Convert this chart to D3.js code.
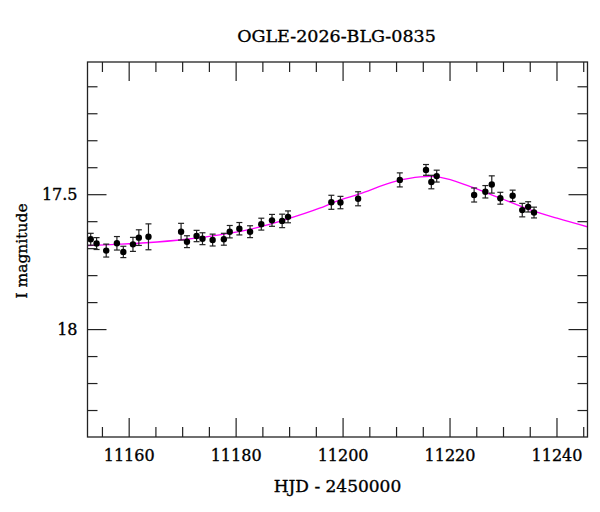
<!DOCTYPE html>
<html>
<head>
<meta charset="utf-8">
<script src="https://cdn.jsdelivr.net/npm/d3@7"></script>
<style>
  body { margin: 0; background: #fff; }
  svg { display: block; font-family: "DejaVu Serif", serif; }
  svg text { stroke: #000; stroke-width: 0.35px; }
</style>
</head>
<body>
<div id="chart"></div>
<script>
// photometry
const hjd = [11152.9, 11154.0, 11155.8, 11157.8, 11159.0, 11160.8, 11161.9, 11163.7,
  11169.8, 11170.9, 11172.7, 11173.8, 11175.7, 11177.8, 11178.9, 11180.7, 11182.7,
  11184.8, 11186.8, 11188.7, 11189.8, 11197.9, 11199.6, 11202.9, 11210.7, 11215.6,
  11216.6, 11217.6, 11224.6, 11226.7, 11227.9, 11229.5, 11231.8, 11233.6, 11234.7, 11235.8];
const mag = [17.667, 17.683, 17.709, 17.682, 17.714, 17.686, 17.661, 17.658,
  17.639, 17.676, 17.655, 17.665, 17.670, 17.667, 17.639, 17.628, 17.639,
  17.611, 17.597, 17.599, 17.584, 17.530, 17.531, 17.517, 17.447, 17.410,
  17.455, 17.433, 17.503, 17.491, 17.464, 17.515, 17.506, 17.559, 17.547, 17.568];
const err = [0.022, 0.022, 0.024, 0.025, 0.021, 0.026, 0.029, 0.048,
  0.031, 0.022, 0.021, 0.022, 0.022, 0.022, 0.023, 0.023, 0.022,
  0.022, 0.022, 0.025, 0.022, 0.026, 0.023, 0.026, 0.026, 0.020,
  0.025, 0.022, 0.026, 0.023, 0.032, 0.022, 0.021, 0.025, 0.019, 0.020];

// fitted model curve
const modelHjd = [11152.0, 11157.7, 11163.3, 11170.8, 11177.0, 11182.0, 11189.5, 11195.7,
  11198.8, 11203.0, 11210.2, 11214.5, 11216.4, 11218.3, 11223.9, 11229.5, 11235.1, 11240.1, 11246.0];
const modelMag = [17.691, 17.686, 17.680, 17.667, 17.651, 17.633, 17.593, 17.552,
  17.527, 17.500, 17.451, 17.436, 17.434, 17.438, 17.472, 17.515, 17.558, 17.589, 17.622];

const xMajor = [11160, 11180, 11200, 11220, 11240];
const xMinor = [11155, 11165, 11170, 11175, 11185, 11190, 11195, 11205, 11210, 11215, 11225, 11230, 11235, 11245];
const yMajor = [17.5, 18];
const yMinor = [17.1, 17.2, 17.3, 17.4, 17.6, 17.7, 17.8, 17.9, 18.1, 18.2, 18.3];

const title = "OGLE-2026-BLG-0835";
const xTitle = "HJD - 2450000";
const yTitle = "I magnitude";

const W = 600, H = 512;
const margin = {top: 62, left: 87.5, right: 12.5, bottom: 75};
const width = W - margin.left - margin.right;
const height = H - margin.top - margin.bottom;

const x = d3.scaleLinear().domain([11152.3, 11245.8]).range([0, width]);
const y = d3.scaleLinear().domain([17.01, 18.40]).range([0, height]);

const svg = d3.select("#chart").append("svg")
    .attr("width", W)
    .attr("height", H);

const g = svg.append("g")
    .attr("transform", `translate(${margin.left},${margin.top})`);

g.append("clipPath").attr("id", "clip")
  .append("rect").attr("width", width).attr("height", height);

// ticks on all four sides, pointing in
function styleAxis(sel) {
  sel.selectAll("path").remove();
  sel.selectAll("line").attr("stroke", "#222").attr("stroke-width", 1.2);
  sel.selectAll("text").attr("fill", "#000").attr("font-family", "DejaVu Serif, serif");
}

g.append("g").attr("transform", `translate(0,${height})`)
  .call(d3.axisBottom(x).tickValues(xMajor).tickSize(-19).tickPadding(13).tickFormat(d3.format("d")))
  .call(styleAxis)
  .call(a => a.selectAll("text").attr("font-size", 16));
g.append("g").attr("transform", `translate(0,${height})`)
  .call(d3.axisBottom(x).tickValues(xMinor).tickSize(-10).tickFormat(""))
  .call(styleAxis);
g.append("g")
  .call(d3.axisTop(x).tickValues(xMajor).tickSize(-19).tickFormat(""))
  .call(styleAxis);
g.append("g")
  .call(d3.axisTop(x).tickValues(xMinor).tickSize(-10).tickFormat(""))
  .call(styleAxis);

g.append("g")
  .call(d3.axisLeft(y).tickValues(yMajor).tickSize(-19).tickPadding(10).tickFormat(d => d === 18 ? "18" : d3.format(".1f")(d)))
  .call(styleAxis)
  .call(a => a.selectAll("text").attr("font-size", 16));
g.append("g")
  .call(d3.axisLeft(y).tickValues(yMinor).tickSize(-10).tickFormat(""))
  .call(styleAxis);
g.append("g").attr("transform", `translate(${width},0)`)
  .call(d3.axisRight(y).tickValues(yMajor).tickSize(-19).tickFormat(""))
  .call(styleAxis);
g.append("g").attr("transform", `translate(${width},0)`)
  .call(d3.axisRight(y).tickValues(yMinor).tickSize(-10).tickFormat(""))
  .call(styleAxis);

// model
const line = d3.line()
    .x((d, i) => x(modelHjd[i]))
    .y(d => y(d))
    .curve(d3.curveMonotoneX);

g.append("path")
    .attr("clip-path", "url(#clip)")
    .attr("d", line(modelMag))
    .attr("fill", "none")
    .attr("stroke", "#ff00ff")
    .attr("stroke-width", 1.3);

// error bars
const pts = hjd.map((t, i) => ({t, m: mag[i], e: err[i]}));
const eb = g.append("g").attr("stroke", "#222").attr("stroke-width", 1.2);
eb.selectAll("line.v").data(pts).join("line")
    .attr("class", "v")
    .attr("x1", d => x(d.t)).attr("x2", d => x(d.t))
    .attr("y1", d => y(d.m - d.e)).attr("y2", d => y(d.m + d.e));
eb.selectAll("line.top").data(pts).join("line")
    .attr("class", "top")
    .attr("x1", d => x(d.t) - 3).attr("x2", d => x(d.t) + 3)
    .attr("y1", d => y(d.m - d.e)).attr("y2", d => y(d.m - d.e));
eb.selectAll("line.bot").data(pts).join("line")
    .attr("class", "bot")
    .attr("x1", d => x(d.t) - 3).attr("x2", d => x(d.t) + 3)
    .attr("y1", d => y(d.m + d.e)).attr("y2", d => y(d.m + d.e));

g.append("g").selectAll("circle").data(pts).join("circle")
    .attr("cx", d => x(d.t))
    .attr("cy", d => y(d.m))
    .attr("r", 3.2)
    .attr("fill", "#000");

// frame
g.append("rect")
    .attr("width", width).attr("height", height)
    .attr("fill", "none")
    .attr("stroke", "#222")
    .attr("stroke-width", 1.3);

// titles
svg.append("text")
    .attr("x", margin.left + width / 2 - 1)
    .attr("y", 41.5)
    .attr("text-anchor", "middle")
    .attr("font-size", 17.5)
    .text(title);

svg.append("text")
    .attr("x", margin.left + width / 2)
    .attr("y", 491.5)
    .attr("text-anchor", "middle")
    .attr("font-size", 17)
    .text(xTitle);

svg.append("text")
    .attr("transform", `translate(27,251) rotate(-90)`)
    .attr("text-anchor", "middle")
    .attr("font-size", 15.5)
    .text(yTitle);
</script>
</body>
</html>
